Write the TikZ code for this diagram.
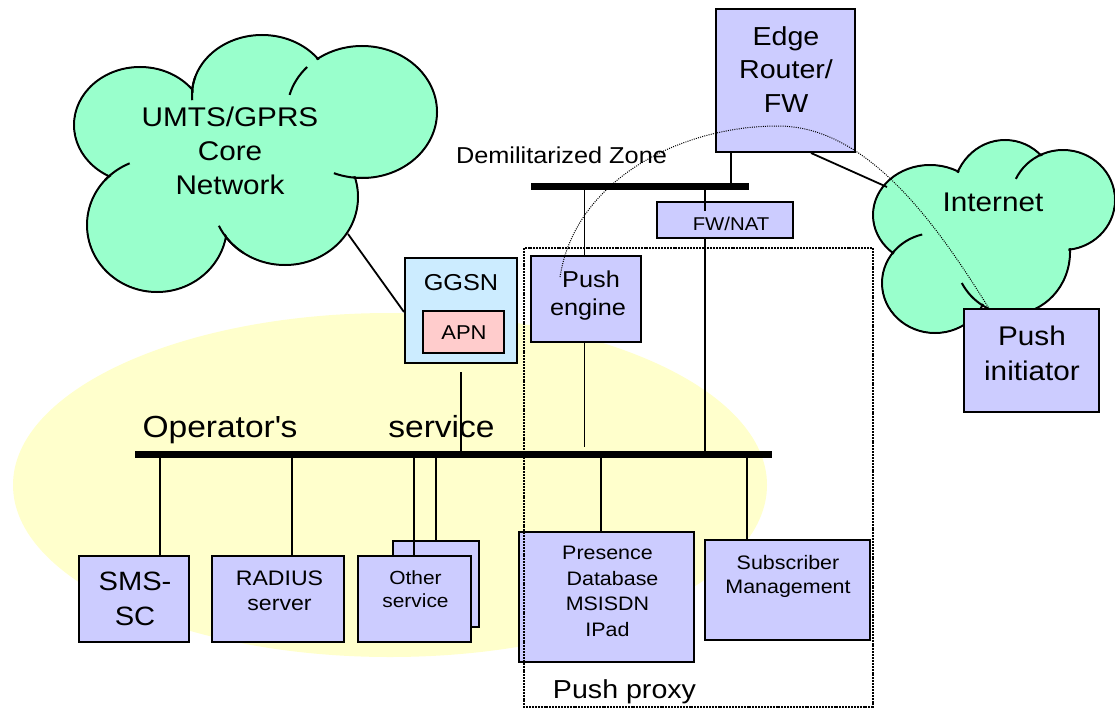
\documentclass[tikz,border=0pt]{standalone}
\usepackage{fontspec}
\setmainfont{Liberation Sans}[FakeStretch=1.1]
\usetikzlibrary{calc}
\definecolor{cloudgreen}{HTML}{99FFCC}
\definecolor{boxblue}{HTML}{CCCCFF}
\definecolor{ggsnblue}{HTML}{CCECFF}
\definecolor{apnpink}{HTML}{FFCCCC}
\definecolor{zoneyellow}{HTML}{FFFFCC}
\newcommand\fsz[2]{\fontsize{#1}{#2}\selectfont}
\begin{document}
\begin{tikzpicture}[x=1pt,y=-1pt,
  box/.style={draw, line width=2pt, fill=boxblue, inner sep=0pt},
  link/.style={line width=1.8pt},
  bus/.style={line width=7pt},
  cloudline/.style={draw, line width=2pt, fill=cloudgreen},
  stub/.style={line width=2pt},
  lbl/.style={inner sep=0pt, align=center},
  dotbox/.style={line width=2pt, dash pattern=on 2pt off 0.9pt},
  dotcurve/.style={line width=1pt, dash pattern=on 1pt off 1.2pt},
]
\useasboundingbox (0,0) rectangle (1115,709);
\fill[white] (0,0) rectangle (1115,709);
% operator's service zone
\fill[zoneyellow] (390,485) ellipse [x radius=377, y radius=172];

% UMTS/GPRS cloud
\draw[cloudline]
  (140,125) ellipse [x radius=66, y radius=58]
  (262,95) ellipse [x radius=70, y radius=60]
  (362,112) ellipse [x radius=75, y radius=66]
  (285,197) ellipse [x radius=73, y radius=68]
  (157,225) ellipse [x radius=70, y radius=67];
\fill[cloudgreen]
  (140,125) ellipse [x radius=64.5, y radius=56.5]
  (262,95) ellipse [x radius=68.5, y radius=58.5]
  (362,112) ellipse [x radius=73.5, y radius=64.5]
  (285,197) ellipse [x radius=71.5, y radius=66.5]
  (157,225) ellipse [x radius=68.5, y radius=65.5]
  (250,160) ellipse [x radius=105, y radius=70];
\draw[stub] (157,225) ++(222:70 and 67) arc[start angle=222, end angle=247, x radius=70, y radius=67];
\draw[stub] (262,95) ++(175:70 and 60) arc[start angle=175, end angle=198, x radius=70, y radius=60];
\draw[stub] (362,112) ++(195:75 and 66) arc[start angle=195, end angle=223, x radius=75, y radius=66];
\draw[stub] (362,112) ++(85:75 and 66) arc[start angle=85, end angle=112, x radius=75, y radius=66];
\draw[stub] (285,197) ++(125:73 and 68) arc[start angle=125, end angle=155, x radius=73, y radius=68];

% Internet cloud
\draw[cloudline]
  (930,215) ellipse [x radius=57, y radius=50]
  (1005,195) ellipse [x radius=52, y radius=55]
  (1063,200) ellipse [x radius=52, y radius=50]
  (935,283) ellipse [x radius=53, y radius=50]
  (1012,252) ellipse [x radius=58, y radius=62];
\fill[cloudgreen]
  (930,215) ellipse [x radius=55.5, y radius=48.5]
  (1005,195) ellipse [x radius=50.5, y radius=53.5]
  (1063,200) ellipse [x radius=50.5, y radius=48.5]
  (935,283) ellipse [x radius=51.5, y radius=48.5]
  (1012,252) ellipse [x radius=56.5, y radius=60.5]
  (995,240) ellipse [x radius=60, y radius=45];
\draw[stub] (935,283) ++(216:53 and 50) arc[start angle=216, end angle=256, x radius=53, y radius=50];
\draw[stub] (1063,200) ++(205:52 and 50) arc[start angle=205, end angle=246, x radius=52, y radius=50];
\draw[stub] (1012,252) ++(120:58 and 62) arc[start angle=120, end angle=150, x radius=58, y radius=62];

% coordinates for buses, taps and free ends
\coordinate (dmzL) at (531,186);
\coordinate (dmzR) at (749,186);
\coordinate (opL) at (135,454);
\coordinate (opR) at (772,454);
\coordinate (tER) at (731,0);
\coordinate (tER2) at (811,0);
\coordinate (tPE) at (584.5,0);
\coordinate (tFW) at (705,0);
\coordinate (tSMS) at (160,0);
\coordinate (tRAD) at (292,0);
\coordinate (tOTH) at (414,0);
\coordinate (tOTH2) at (436,0);
\coordinate (tPRE) at (601,0);
\coordinate (tSUB) at (747,0);
\coordinate (tGG) at (0,312);
\coordinate (inet) at (887,187);
\coordinate (umts) at (348,234);
\coordinate (fwIn) at (705,211);
\coordinate (peEnd) at (584.5,447);
\coordinate (ggTop) at (461,372);
\coordinate (ggBot) at (461,458);
\coordinate (curveS) at (560,277);
\coordinate (curveM) at (778,126);
\coordinate (curveE) at (990,310);

% boxes
\node[box, minimum width=139pt, minimum height=143pt] (er) at (785.5,80.5) {};
\node[box, minimum width=136pt, minimum height=36pt] (fw) at (725,220) {};
\node[box, minimum width=110pt, minimum height=86pt] (pe) at (586,299) {};
\node[box, fill=ggsnblue, minimum width=112pt, minimum height=105pt] (ggsn) at (461,310.5) {};
\node[box, fill=apnpink, line width=1.7pt, minimum width=81pt, minimum height=42pt] (apn) at (463.5,332) {};
\node[box, minimum width=135pt, minimum height=103pt] (pi) at (1031.5,360.5) {};
\node[box, minimum width=110pt, minimum height=86pt] (sms) at (134,599) {};
\node[box, minimum width=132pt, minimum height=86pt] (rad) at (278,599) {};
\node[box, minimum width=86pt, minimum height=86pt] (oth2) at (436,584) {};
\node[box, minimum width=113pt, minimum height=86pt] (oth) at (414.5,599) {};
\node[box, minimum width=175pt, minimum height=130pt] (pres) at (606.5,597) {};
\node[box, minimum width=165pt, minimum height=100pt] (sub) at (787.5,590) {};

% connectors
\draw[link] (er.south -| tER) -- (dmzL -| tER);
\draw[link] (er.south -| tER2) -- (inet);
\draw[link] (umts) -- (ggsn.west |- tGG);
\draw[link] (dmzL -| tPE) -- (pe.north -| tPE);
\draw[link] (pe.south -| tPE) -- (peEnd);
\draw[link] (dmzL -| tFW) -- (fwIn);
\draw[link] (fw.south -| tFW) -- (opL -| tFW);
\draw[link] (ggTop) -- (ggBot);
\draw[link] (opL -| tSMS) -- (sms.north -| tSMS);
\draw[link] (opL -| tRAD) -- (rad.north -| tRAD);
\draw[link] (opL -| tOTH) -- (oth.north -| tOTH);
\draw[link] (opL -| tOTH2) -- (oth2.north -| tOTH2);
\draw[link] (opL -| tPRE) -- (pres.north -| tPRE);
\draw[link] ([yshift=-4pt]opL -| tSUB) -- (sub.north -| tSUB);

% buses
\draw[bus] (dmzL) -- (dmzR);
\draw[bus] (opL) -- (opR);

% push proxy frame and dotted path
\draw[dotbox] (524,248) rectangle (872.5,707);
\draw[dotcurve] (curveS) .. controls (575,180) and (680,126) .. (curveM)
  .. controls (870,126) and (940,230) .. (curveE);

% labels
\node[lbl, font=\fsz{27}{34}] (lUmts) at (230,151) {UMTS/GPRS\\Core\\Network};
\node[lbl, font=\fsz{26}{33.5}] (lEr) at (786,69.3) {Edge\\Router/\\FW};
\node[lbl, font=\fsz{23}{0}, anchor=base] (lDmz) at (561.5,163.2) {Demilitarized Zone};
\node[lbl, font=\fsz{18.5}{0}, anchor=base] (lFw) at (731,230.6) {FW/NAT};
\node[lbl, font=\fsz{27}{0}, anchor=base] (lInet) at (993,211.7) {Internet};
\node[lbl, font=\fsz{23}{28}] (lPe) at (588,295.2) {\hspace*{6pt}Push\\engine};
\node[lbl, font=\fsz{27}{35}] (lPi) at (1032,353.4) {Push\\initiator};
\node[lbl, font=\fsz{23}{0}, anchor=base] (lGgsn) at (461,290.2) {GGSN};
\node[lbl, font=\fsz{20}{0}, anchor=base] (lApn) at (464,339.7) {APN};
\node[lbl, font=\fsz{30.5}{0}, anchor=base] (lOp) at (220,437) {Operator\textquotesingle s};
\node[lbl, font=\fsz{30.5}{0}, anchor=base] (lServ) at (441.5,437) {service};
\node[lbl, font=\fsz{26.5}{35}] (lSms) at (135,598.5) {SMS-\\SC};
\node[lbl, font=\fsz{21}{25}] (lRad) at (279.5,590.5) {RADIUS\\server};
\node[lbl, font=\fsz{19}{23}] (lOth) at (415.5,588.8) {Other\\service};
\node[lbl, font=\fsz{19.5}{25.8}] (lPres) at (607.5,591.3) {Presence\\\hspace*{10pt}Database\\MSISDN\\IPad};
\node[lbl, font=\fsz{19.5}{24}] (lSub) at (788,576) {Subscriber\\Management};
\node[lbl, font=\fsz{26}{0}, anchor=base] (lPp) at (624.5,698.3) {Push proxy};
\end{tikzpicture}
\end{document}
